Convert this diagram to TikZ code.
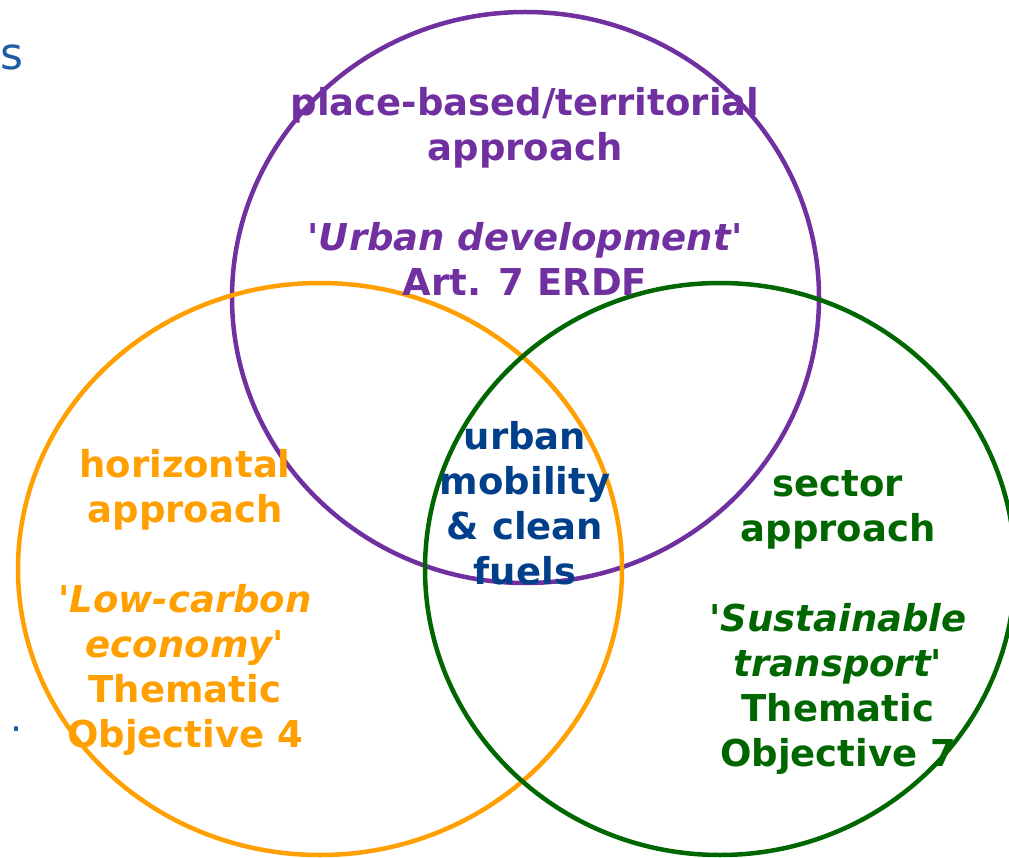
\documentclass[tikz,border=0pt]{standalone}
\usepackage{fontspec}
\setmainfont{DejaVu Sans}[Ligatures=TeXOff]
\definecolor{venpurple}{HTML}{7030A0}
\definecolor{venorange}{HTML}{FF9F00}
\definecolor{vengreen}{HTML}{006600}
\definecolor{venblue}{HTML}{003F8A}
\definecolor{edgeblue}{HTML}{1F5CA6}
\tikzset{
  ring/.style={line width=4.5pt},
  label/.style={font=\fontsize{37}{45}\selectfont\bfseries, align=center, inner sep=0pt},
}
\begin{document}
\begin{tikzpicture}[x=1pt,y=-1pt]
    \useasboundingbox (0,0) rectangle (1009,858);
    \coordinate (pc) at (525.5,297.5);
    \coordinate (oc) at (320,569);
    \coordinate (gc) at (720,569);

    \draw[ring,venpurple] (pc) ellipse [x radius=293.5pt, y radius=285.5pt];
    \draw[ring,venorange] (oc) ellipse [x radius=302pt, y radius=286pt];
    \draw[ring,vengreen] (gc) ellipse [x radius=295pt, y radius=286pt];

    \node[label,venpurple] (place) at (525,191) {place-based/territorial\\approach\\[45pt]\itshape 'Urban development'\\Art. 7 ERDF};
    \node[label,venorange] (horiz) at (185,602) {horizontal\\approach\\[45pt]\itshape 'Low-carbon\\\itshape economy'\\Thematic\\Objective 4};
    \node[label,vengreen] (sector) at (838,622) {sector\\approach\\[45pt]\itshape 'Sustainable\\\itshape transport'\\Thematic\\Objective 7};
    \node[label,venblue] (mobility) at (525,503) {urban\\mobility\\\& clean\\fuels};

    \node[font=\fontsize{44}{45}\selectfont, text=edgeblue, inner sep=0pt, anchor=west] (edge) at (0,57) {s};
    \node[font=\fontsize{38}{45}\selectfont, text=edgeblue, inner sep=0pt] (dot) at (17,729) {.};
\end{tikzpicture}
\end{document}
